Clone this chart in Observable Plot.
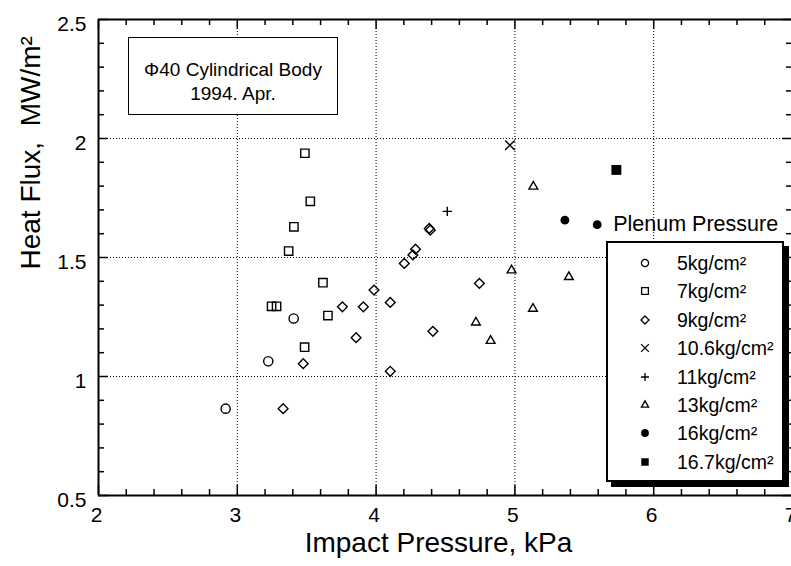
<!DOCTYPE html>
<html>
<head>
<meta charset="utf-8">
<script src="https://cdn.jsdelivr.net/npm/d3@7"></script>
<script src="https://cdn.jsdelivr.net/npm/@observablehq/plot@0.6"></script>
<style>
  html, body { margin: 0; padding: 0; background: #fff; overflow: hidden; }
  #wrap { position: relative; width: 791px; height: 566px; overflow: hidden;
          font-family: "Liberation Sans", Arial, Helvetica, sans-serif; color: #000; }
  #titlebox { position: absolute; left: 128px; top: 37px; width: 210px; height: 78px;
              border: 1.5px solid #000; background: #fff; box-sizing: border-box;
              text-align: center; font-size: 19px; line-height: 24px; padding-top: 20px; }
  #legend { position: absolute; left: 606px; top: 241px; width: 178px; height: 241px;
            border: 2px solid #000; background: #fff; box-sizing: border-box;
            box-shadow: 5px 5px 0 #000; }
  .lrow { position: absolute; left: 0; height: 20px; width: 170px; }
  .lrow svg { position: absolute; left: 31px; top: 4px; overflow: visible; }
  .lrow span { position: absolute; left: 69px; top: 0; font-size: 19.5px; line-height: 20px; white-space: nowrap; }
</style>
</head>
<body>
<div id="wrap"></div>
<script>
// ---------- data ----------
const seriesNames = ["5kg/cm²", "7kg/cm²", "9kg/cm²", "10.6kg/cm²", "11kg/cm²", "13kg/cm²", "16kg/cm²", "16.7kg/cm²"];

const p5x  = [2.916, 3.223, 3.406];
const p5y  = [0.865, 1.064, 1.244];

const p7x  = [3.487, 3.526, 3.408, 3.370, 3.617, 3.247, 3.283, 3.653, 3.485];
const p7y  = [1.938, 1.736, 1.629, 1.527, 1.394, 1.295, 1.295, 1.256, 1.123];

const p9x  = [3.330, 3.475, 3.856, 4.102, 4.409, 3.757, 3.908, 3.985, 4.102, 4.203, 4.265, 4.284, 4.383, 4.390, 4.744];
const p9y  = [0.865, 1.054, 1.163, 1.022, 1.190, 1.293, 1.293, 1.363, 1.311, 1.475, 1.511, 1.535, 1.622, 1.615, 1.391];

const p106x = [4.964];
const p106y = [1.972];

const p11x = [4.513];
const p11y = [1.694];

const p13x = [5.133, 4.976, 5.389, 5.130, 4.719, 4.825];
const p13y = [1.798, 1.446, 1.418, 1.285, 1.227, 1.150];

const p16x = [5.360];
const p16y = [1.657];

const p167x = [5.731];
const p167y = [1.868];

const plenumNoteX = [5.593];
const plenumNoteY = [1.638];
const plenumNoteText = ["Plenum Pressure"];

const xTickValues = [2, 3, 4, 5, 6, 7];
const xTickLabels = ["2", "3", "4", "5", "6", "7"];
const yTickValues = [0.5, 1, 1.5, 2, 2.5];
const yTickLabels = ["0.5", "1", "1.5", "2", "2.5"];
const xGridValues = [3, 4, 5, 6];
const yGridValues = [1, 1.5, 2];
const xMinorValues = [2.2,2.4,2.6,2.8,3.2,3.4,3.6,3.8,4.2,4.4,4.6,4.8,5.2,5.4,5.6,5.8,6.2,6.4,6.6,6.8];
const yMinorValues = [0.6,0.7,0.8,0.9,1.1,1.2,1.3,1.4,1.6,1.7,1.8,1.9,2.1,2.2,2.3,2.4];

const xTitle = "Impact Pressure, kPa";
const yTitle = "Heat Flux,\u00a0\u00a0MW/m²";
const boxTitle1 = "Φ40 Cylindrical Body";
const boxTitle2 = "1994. Apr.";

// ---------- build tables ----------
const seriesXs = [p5x, p7x, p9x, p106x, p11x, p13x, p16x, p167x];
const seriesYs = [p5y, p7y, p9y, p106y, p11y, p13y, p16y, p167y];
const seriesStyle = [
  {symbol: "circle",    d3s: d3.symbolCircle,    r: 4.6, filled: false, lr: 3.6},
  {symbol: "square2",   d3s: d3.symbolSquare2,   r: 5.3, filled: false, lr: 4.3},
  {symbol: "diamond2",  d3s: d3.symbolDiamond2,  r: 4.4, filled: false, lr: 3.6},
  {symbol: "times",     d3s: d3.symbolTimes,     r: 4.4, filled: false, lr: 3.6},
  {symbol: "plus",      d3s: d3.symbolPlus,      r: 3.1, filled: false, lr: 2.7},
  {symbol: "triangle2", d3s: d3.symbolTriangle2, r: 4.2, filled: false, lr: 3.4},
  {symbol: "circle",    d3s: d3.symbolCircle,    r: 4.4, filled: true,  lr: 3.9},
  {symbol: "square",    d3s: d3.symbolSquare,    r: 5.6, filled: true,  lr: 4.2}
];
const tables = seriesNames.map((name, i) => seriesXs[i].map((x, j) => ({series: name, x, y: seriesYs[i][j]})));
const plenum = plenumNoteX.map((x, i) => ({x, y: plenumNoteY[i], text: plenumNoteText[i]}));

// ---------- plot ----------
const W = 791, H = 566, mL = 98, mR = -1, mT = 19, mB = 71;
const plotW = W - mL - mR, plotH = H - mT - mB;
const font = "Liberation Sans, Arial, Helvetica, sans-serif";

const dotMarks = tables.map((data, i) => {
  const s = seriesStyle[i];
  return Plot.dot(data, {
    x: "x", y: "y", symbol: s.symbol, r: s.r,
    fill: s.filled ? "#000" : "none",
    stroke: s.filled ? "none" : "#000",
    strokeWidth: 1.4
  });
});

const chart = Plot.plot({
  width: W, height: H,
  marginLeft: mL, marginRight: mR, marginTop: mT, marginBottom: mB,
  x: {domain: [2, 7], axis: null},
  y: {domain: [0.5, 2.5], axis: null},
  style: {fontFamily: font, background: "#fff", color: "#000", overflow: "visible"},
  marks: [
    // dotted grid
    Plot.ruleX(xGridValues, {x: d => d, stroke: "#000", strokeWidth: 1, strokeDasharray: "1,2"}),
    Plot.ruleY(yGridValues, {y: d => d, stroke: "#000", strokeWidth: 1, strokeDasharray: "1,2"}),
    // inward ticks, bottom & top
    Plot.tickX(xMinorValues, {x: d => d, insetTop: plotH - 6, stroke: "#000", strokeWidth: 1.5}),
    Plot.tickX(xMinorValues, {x: d => d, insetBottom: plotH - 6, stroke: "#000", strokeWidth: 1.5}),
    Plot.tickX(xTickValues, {x: d => d, insetTop: plotH - 10, stroke: "#000", strokeWidth: 1.5}),
    Plot.tickX(xTickValues, {x: d => d, insetBottom: plotH - 10, stroke: "#000", strokeWidth: 1.5}),
    // inward ticks, left & right
    Plot.tickY(yMinorValues, {y: d => d, insetRight: plotW - 6, stroke: "#000", strokeWidth: 1.5}),
    Plot.tickY(yMinorValues, {y: d => d, insetLeft: plotW - 6, stroke: "#000", strokeWidth: 1.5}),
    Plot.tickY(yTickValues, {y: d => d, insetRight: plotW - 10, stroke: "#000", strokeWidth: 1.5}),
    Plot.tickY(yTickValues, {y: d => d, insetLeft: plotW - 10, stroke: "#000", strokeWidth: 1.5}),
    // frame
    Plot.ruleX([2, 7], {x: d => d, stroke: "#000", strokeWidth: 2}),
    Plot.ruleY([0.5, 2.5], {y: d => d, stroke: "#000", strokeWidth: 2}),
    // tick labels
    Plot.text(xTickValues, {x: d => d, text: (d, i) => xTickLabels[i], frameAnchor: "bottom", dy: 26, dx: -2,
      fontSize: 21, fill: "#000"}),
    Plot.text(yTickValues, {y: d => d, text: (d, i) => yTickLabels[i], frameAnchor: "left", dx: -12, dy: 5,
      textAnchor: "end", fontSize: 21, fill: "#000"}),
    // axis titles
    Plot.text([xTitle], {text: d => d, frameAnchor: "bottom", dy: 56, dx: -7, fontSize: 28, fill: "#000"}),
    Plot.text([yTitle], {text: d => d, frameAnchor: "left", rotate: -90, dx: -67, dy: 12, fontSize: 28, fill: "#000"}),
    // data
    ...dotMarks,
    // plenum pressure note
    Plot.dot(plenum, {x: "x", y: "y", symbol: "circle", r: 4.4, fill: "#000"}),
    Plot.text(plenum, {x: "x", y: "y", text: "text", dx: 16, dy: -1, textAnchor: "start", fontSize: 21.5, fill: "#000"})
  ]
});

const wrap = document.getElementById("wrap");
wrap.appendChild(chart);

// title box
const tb = document.createElement("div");
tb.id = "titlebox";
tb.innerHTML = `<div>${boxTitle1}</div><div>${boxTitle2}</div>`;
wrap.appendChild(tb);

// legend
const lg = document.createElement("div");
lg.id = "legend";
seriesNames.forEach((name, i) => {
  const s = seriesStyle[i];
  const row = document.createElement("div");
  row.className = "lrow";
  row.style.top = (10 + i * 28.4) + "px";
  const path = d3.symbol(s.d3s, Math.PI * s.lr * s.lr)();
  row.innerHTML = `<svg width="12" height="12" viewBox="-6 -6 12 12"><path d="${path}" fill="${s.filled ? "#000" : "none"}" stroke="${s.filled ? "none" : "#000"}" stroke-width="1.3"/></svg><span>${name}</span>`;
  lg.appendChild(row);
});
wrap.appendChild(lg);
</script>
</body>
</html>
